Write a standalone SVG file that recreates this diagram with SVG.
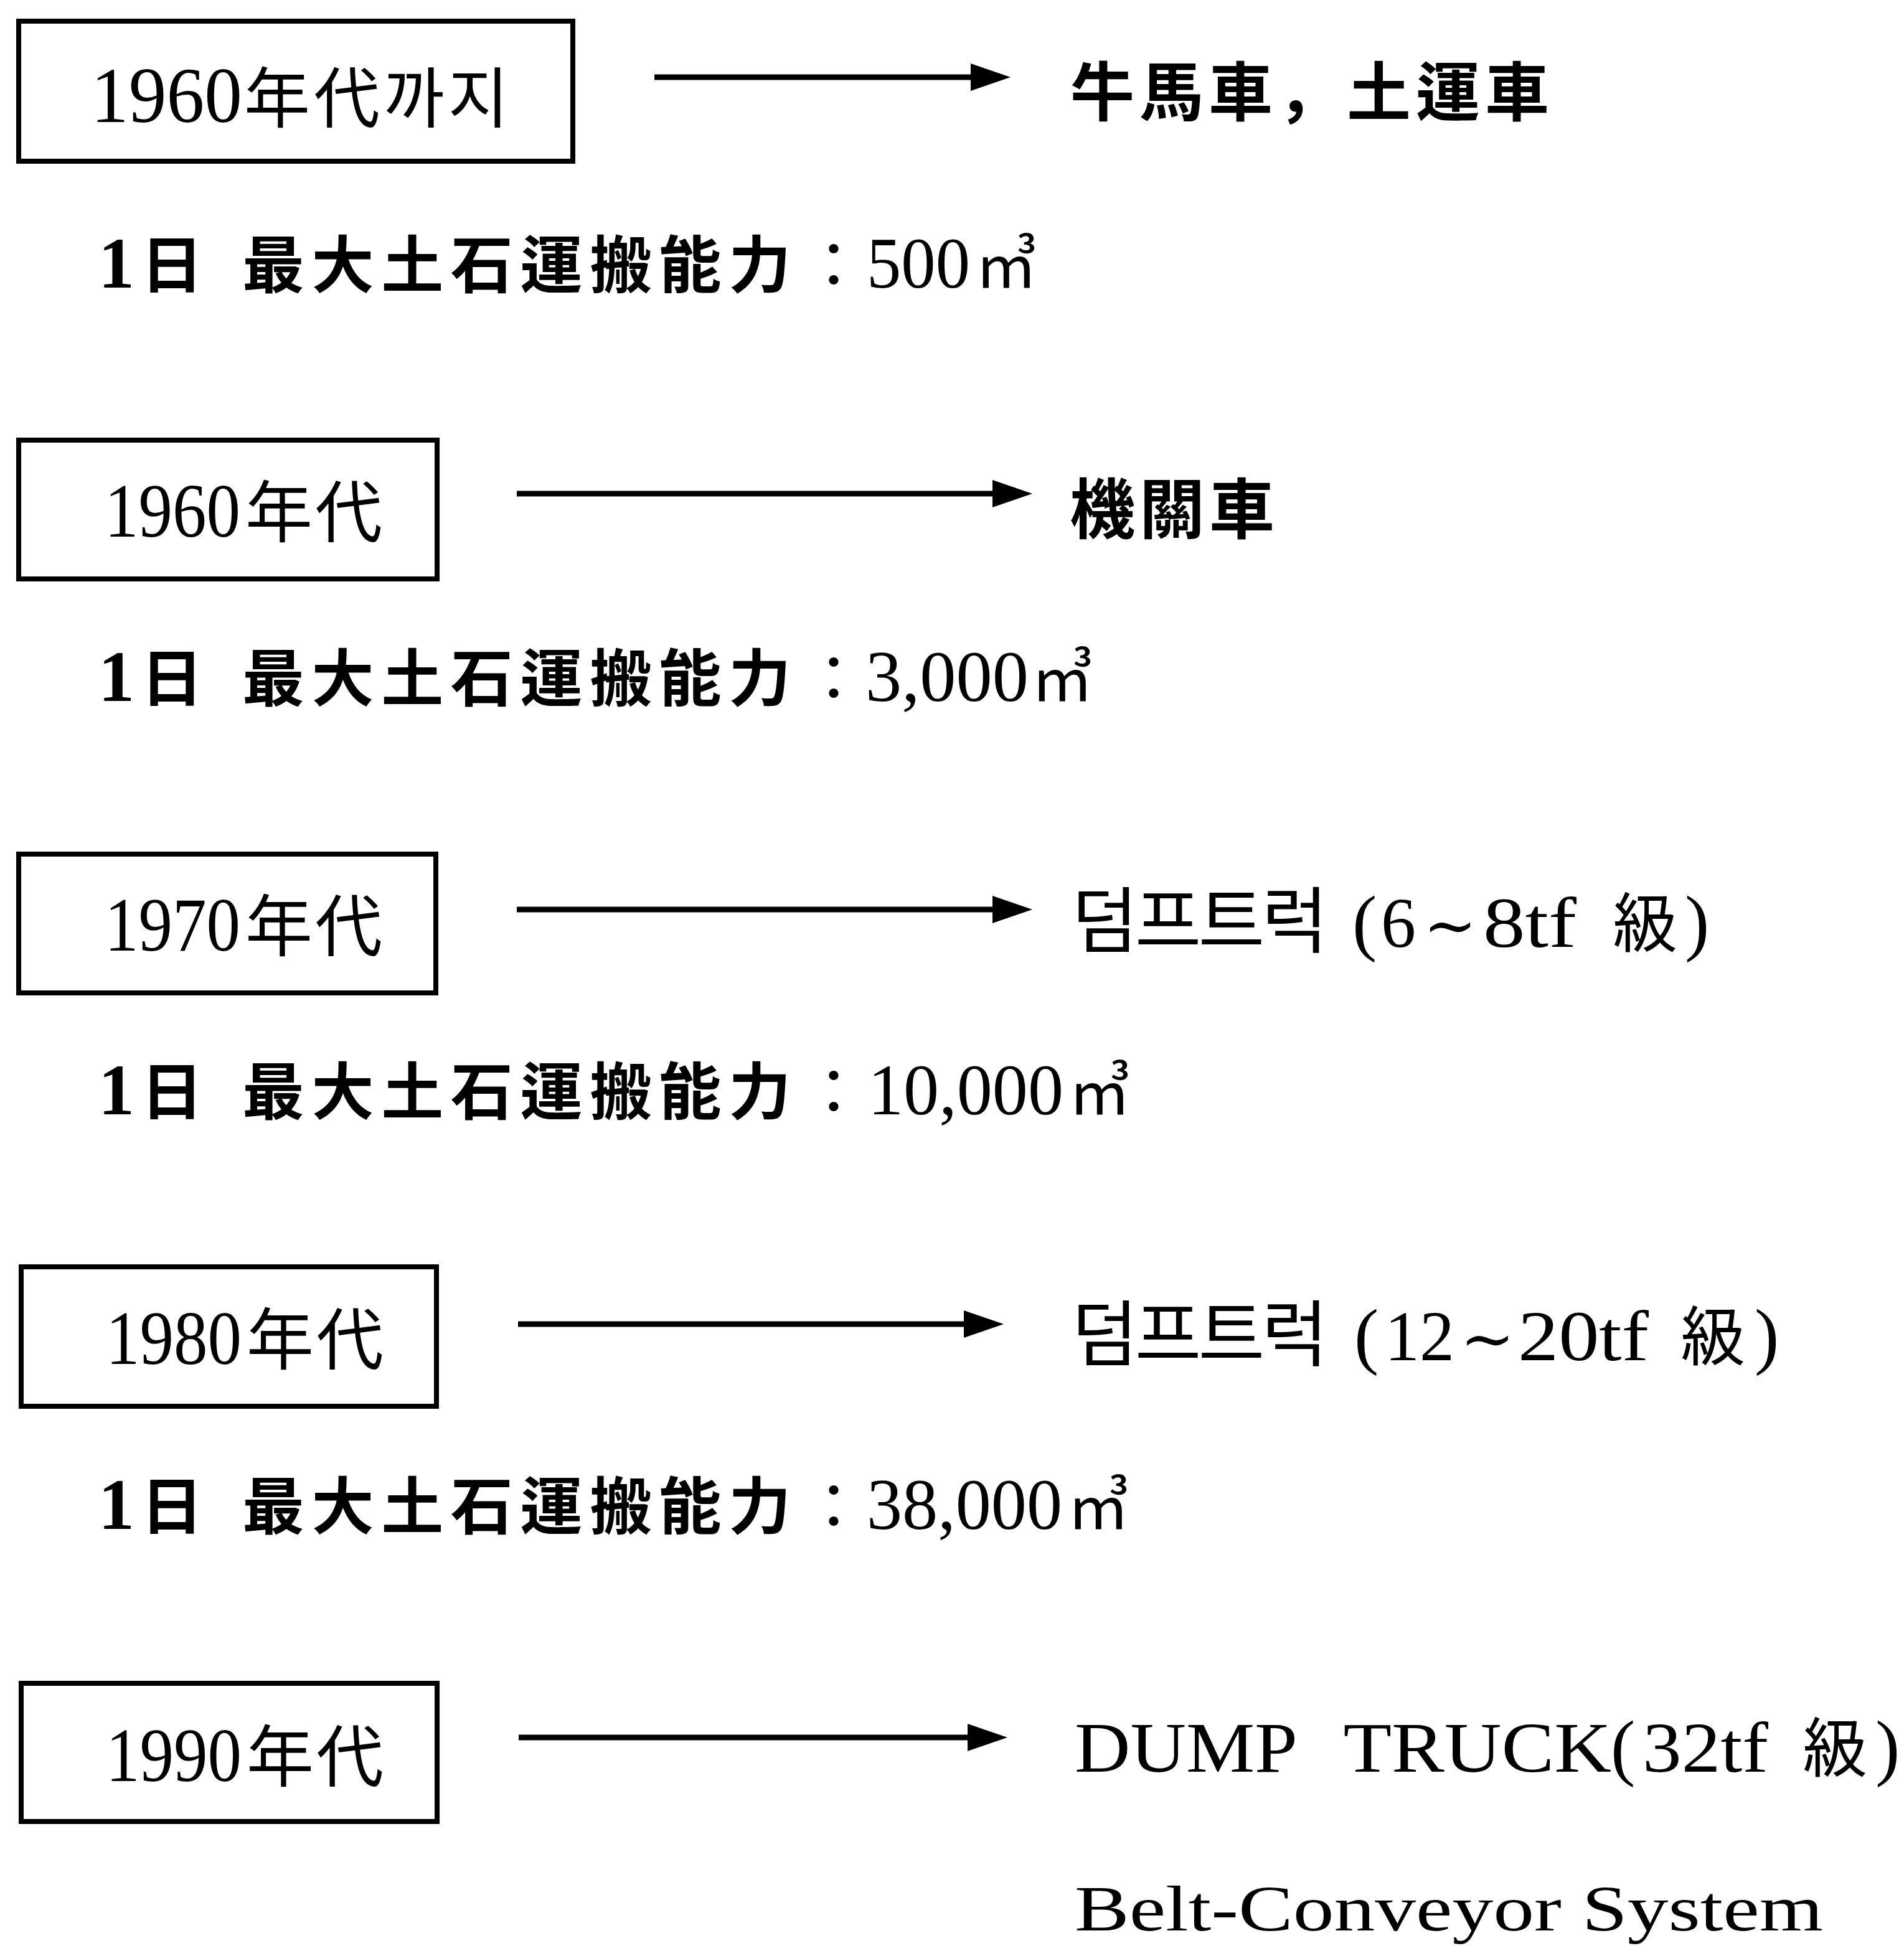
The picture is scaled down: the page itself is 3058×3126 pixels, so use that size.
<svg xmlns="http://www.w3.org/2000/svg" width="3058" height="3126" viewBox="0 0 3058 3126">
<style>
.bg{fill:#fff}
.box{fill:#fff;stroke:#000;stroke-width:8}
.conn{stroke:#000;stroke-width:9;fill:none}
.num{font-family:"Liberation Serif","DejaVu Serif",serif;fill:#000}
.cjk{font-family:"Noto Sans CJK KR","Noto Sans CJK JP",sans-serif;fill:#000}
.til{font-family:"DejaVu Serif","Liberation Serif",serif;font-size:100px;fill:#000}
.lbl{font-size:122px}
.lc{font-size:108px;letter-spacing:4px}
.b{font-weight:700}
.cap{font-size:100px}
.capn{font-size:116px}
.out{font-size:104px}
.han{font-size:116px;letter-spacing:-5px}
.lat{font-size:114px}
</style>
<defs>
<marker id="ah" markerUnits="userSpaceOnUse" markerWidth="66" markerHeight="46" refX="4" refY="22" orient="auto">
<path d="M0,0 L64,22 L0,44 z" fill="#000"/>
</marker>
</defs>
<rect class="bg" x="0" y="0" width="3058" height="3126"/>

<g id="connectors">
<line class="conn" x1="1051" y1="124" x2="1563" y2="124" marker-end="url(#ah)"/>
<line class="conn" x1="830" y1="793" x2="1598" y2="793" marker-end="url(#ah)"/>
<line class="conn" x1="830" y1="1461" x2="1598" y2="1461" marker-end="url(#ah)"/>
<line class="conn" x1="832" y1="2127" x2="1552" y2="2127" marker-end="url(#ah)"/>
<line class="conn" x1="833" y1="2791" x2="1558" y2="2791" marker-end="url(#ah)"/>
</g>

<g id="box-until1960">
<rect class="box" x="30" y="34" width="890" height="225"/>
<text y="196"><tspan class="num" x="146" style="font-size:126px" textLength="243" lengthAdjust="spacingAndGlyphs">1960</tspan><tspan class="cjk" x="392" style="font-size:106px;letter-spacing:6px">年代까지</tspan></text>
</g>
<g id="box-1960">
<rect class="box" x="30" y="707" width="672" height="223"/>
<text y="862"><tspan class="num lbl" x="168" textLength="218" lengthAdjust="spacingAndGlyphs">1960</tspan><tspan class="cjk lc" x="394">年代</tspan></text>
</g>
<g id="box-1970">
<rect class="box" x="30" y="1372" width="670" height="223"/>
<text y="1527"><tspan class="num lbl" x="168" textLength="218" lengthAdjust="spacingAndGlyphs">1970</tspan><tspan class="cjk lc" x="394">年代</tspan></text>
</g>
<g id="box-1980">
<rect class="box" x="34" y="2035" width="667" height="224"/>
<text y="2191"><tspan class="num lbl" x="170" textLength="218" lengthAdjust="spacingAndGlyphs">1980</tspan><tspan class="cjk lc" x="396">年代</tspan></text>
</g>
<g id="box-1990">
<rect class="box" x="34" y="2704" width="668" height="222"/>
<text y="2861"><tspan class="num lbl" x="170" textLength="218" lengthAdjust="spacingAndGlyphs">1990</tspan><tspan class="cjk lc" x="396">年代</tspan></text>
</g>

<g id="out-oxcart">
<text class="cjk b" x="1719" y="186" style="font-size:103px;letter-spacing:8px">牛馬車，土運車</text>
</g>
<g id="out-locomotive">
<text class="cjk b" x="1718" y="856" style="font-size:105px;letter-spacing:7px">機關車</text>
</g>
<g id="out-dump-6-8">
<text y="1521"><tspan class="cjk han" x="1721">덤프트럭</tspan><tspan class="num" x="2172" style="font-size:118px">(</tspan><tspan class="num lat" x="2218" textLength="56" lengthAdjust="spacingAndGlyphs">6</tspan><tspan class="til" x="2286" textLength="86" lengthAdjust="spacingAndGlyphs">∼</tspan><tspan class="num lat" x="2382" textLength="150" lengthAdjust="spacingAndGlyphs">8tf</tspan><tspan class="cjk out" x="2567"> 級</tspan><tspan class="num" x="2706" style="font-size:118px">)</tspan></text>
</g>
<g id="out-dump-12-20">
<text y="2185"><tspan class="cjk han" x="1721">덤프트럭</tspan><tspan class="num" x="2175" style="font-size:118px">(</tspan><tspan class="num lat" x="2224" textLength="112" lengthAdjust="spacingAndGlyphs">12</tspan><tspan class="til" x="2345" textLength="88" lengthAdjust="spacingAndGlyphs">∼</tspan><tspan class="num lat" x="2438" textLength="210" lengthAdjust="spacingAndGlyphs">20tf</tspan><tspan class="cjk out" x="2676"> 級</tspan><tspan class="num" x="2818" style="font-size:118px">)</tspan></text>
</g>
<g id="out-dump-32">
<text y="2846"><tspan class="num lat" x="1726" textLength="358" lengthAdjust="spacingAndGlyphs">DUMP</tspan><tspan class="num lat" x="2128" textLength="460" lengthAdjust="spacingAndGlyphs"> TRUCK</tspan><tspan class="num" x="2587" style="font-size:118px">(</tspan><tspan class="num lat" x="2638" textLength="202" lengthAdjust="spacingAndGlyphs">32tf</tspan><tspan class="cjk out" x="2872"> 級</tspan><tspan class="num" x="3012" style="font-size:118px">)</tspan></text>
</g>
<g id="out-belt">
<text class="num" x="1726" y="3101" style="font-size:104px" textLength="1202" lengthAdjust="spacingAndGlyphs">Belt-Conveyor System</text>
</g>

<g id="cap-500">
<text y="462"><tspan class="num capn b" x="158">1</tspan><tspan class="cjk cap b" x="226">日</tspan><tspan class="cjk cap b" x="389" style="letter-spacing:11.6px">最大土石運搬能力</tspan><tspan class="cjk cap" x="1289">：</tspan><tspan class="num capn" x="1392" textLength="166" lengthAdjust="spacingAndGlyphs">500</tspan><tspan class="cjk cap" x="1566">㎥</tspan></text>
</g>
<g id="cap-3000">
<text y="1126"><tspan class="num capn b" x="158">1</tspan><tspan class="cjk cap b" x="226">日</tspan><tspan class="cjk cap b" x="389" style="letter-spacing:11.6px">最大土石運搬能力</tspan><tspan class="cjk cap" x="1289">：</tspan><tspan class="num capn" x="1390" textLength="262" lengthAdjust="spacingAndGlyphs">3,000</tspan><tspan class="cjk cap" x="1656">㎥</tspan></text>
</g>
<g id="cap-10000">
<text y="1790"><tspan class="num capn b" x="158">1</tspan><tspan class="cjk cap b" x="226">日</tspan><tspan class="cjk cap b" x="389" style="letter-spacing:11.6px">最大土石運搬能力</tspan><tspan class="cjk cap" x="1289">：</tspan><tspan class="num capn" x="1394" textLength="314" lengthAdjust="spacingAndGlyphs">10,000</tspan><tspan class="cjk cap" x="1716">㎥</tspan></text>
</g>
<g id="cap-38000">
<text y="2456"><tspan class="num capn b" x="158">1</tspan><tspan class="cjk cap b" x="226">日</tspan><tspan class="cjk cap b" x="389" style="letter-spacing:11.6px">最大土石運搬能力</tspan><tspan class="cjk cap" x="1289">：</tspan><tspan class="num capn" x="1392" textLength="314" lengthAdjust="spacingAndGlyphs">38,000</tspan><tspan class="cjk cap" x="1714">㎥</tspan></text>
</g>
</svg>
